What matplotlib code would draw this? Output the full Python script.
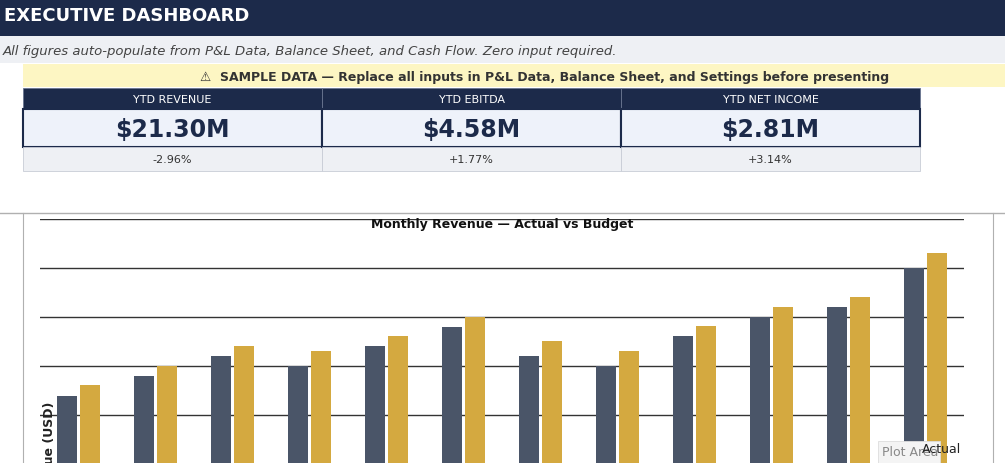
import matplotlib.pyplot as plt
from matplotlib.patches import Rectangle
import numpy as np

months = ["Jan", "Feb", "Mar", "Apr", "May", "Jun", "Jul", "Aug", "Sep", "Oct", "Nov", "Dec"]
actual = [1.19, 1.40, 1.60, 1.50, 1.70, 1.90, 1.60, 1.50, 1.81, 2.00, 2.10, 2.50]
budget = [1.31, 1.50, 1.70, 1.65, 1.81, 2.00, 1.76, 1.65, 1.91, 2.10, 2.20, 2.65]
kpi_names = ["YTD REVENUE", "YTD EBITDA", "YTD NET INCOME"]
kpi_values = ["$21.30M", "$4.58M", "$2.81M"]
kpi_changes = ["-2.96%", "+1.77%", "+3.14%"]

W, H = 1005, 464
NAVY = "#1c2a4a"
fig = plt.figure(figsize=(W / 100, H / 100), dpi=100)
fig.patch.set_facecolor("white")

def box(x, y, w, h, fc, ec="none", lw=0):
    # pixel coords, y from top
    fig.add_artist(Rectangle((x / W, 1 - (y + h) / H), w / W, h / H, transform=fig.transFigure,
                             facecolor=fc, edgecolor=ec, linewidth=lw))

def txt(x, y, s, **kw):
    fig.text(x / W, 1 - y / H, s, **kw)

# header
box(0, 0, W, 37, NAVY)
txt(4, 16, "EXECUTIVE DASHBOARD", color="white", fontsize=13, fontweight="bold", va="center")
box(0, 37, W, 27, "#eef0f4")
txt(3, 51, "All figures auto-populate from P&L Data, Balance Sheet, and Cash Flow. Zero input required.",
    color="#444444", fontsize=9.5, style="italic", va="center")
box(23, 65, W - 23, 23, "#fdf6c3")
txt(545, 77, "⚠  SAMPLE DATA — Replace all inputs in P&L Data, Balance Sheet, and Settings before presenting",
    color="#333333", fontsize=9, fontweight="bold", va="center", ha="center")

# KPI cards
cw = 299
for i in range(3):
    x0 = 23 + i * cw
    box(x0, 89, cw, 21, NAVY, ec="#6a7590", lw=0.6)
    txt(x0 + cw / 2, 100, kpi_names[i], color="white", fontsize=8, ha="center", va="center")
    box(x0, 110, cw, 38, "#eef2fa", ec=NAVY, lw=1.5)
    txt(x0 + cw / 2, 130, kpi_values[i], color=NAVY, fontsize=17, fontweight="bold", ha="center", va="center")
    box(x0, 148, cw, 24, "#eef0f4", ec="#c8ccd6", lw=0.6)
    txt(x0 + cw / 2, 160, kpi_changes[i], color="#333333", fontsize=8, ha="center", va="center")

# chart frame
fig.add_artist(plt.Line2D([0, 1], [1 - 214 / H] * 2, transform=fig.transFigure, color="#b0b0b0", lw=1))
fig.add_artist(plt.Line2D([23 / W] * 2, [0, 1 - 214 / H], transform=fig.transFigure, color="#b0b0b0", lw=0.8))
fig.add_artist(plt.Line2D([993 / W] * 2, [0, 1 - 214 / H], transform=fig.transFigure, color="#b0b0b0", lw=0.8))

ax = fig.add_axes([40 / W, 1 - 514 / H, 924 / W, 294 / H])
x = np.arange(len(months))
ax.bar(x - 0.15, actual, 0.27, color="#4a5568", label="Actual", zorder=3)
ax.bar(x + 0.15, budget, 0.27, color="#d4a940", label="Budget", zorder=3)
ax.set_xlim(-0.5, 11.5)
ax.set_ylim(0, 3.0)
ax.set_yticks(np.arange(0.5, 3.01, 0.5))
ax.grid(axis="y", color="#333333", lw=1, zorder=0)
ax.tick_params(left=False, bottom=False, labelleft=False, labelbottom=False)
for s in ax.spines.values():
    s.set_visible(False)
txt(502, 225, "Monthly Revenue — Actual vs Budget", fontsize=9, fontweight="bold", ha="center", va="center",
    color="#111111")

txt(50, 455, "Revenue (USD)", rotation=90, fontsize=9, fontweight="bold", ha="center", va="center", color="#222222")
box(878, 442, 62, 22, "#f4f4f4", ec="#dddddd", lw=0.6)
txt(882, 453, "Plot Area", fontsize=9, color="#888888", va="center")
txt(922, 450, "Actual", fontsize=9, color="#222222", va="center")

fig.savefig("out.png", dpi=100)
